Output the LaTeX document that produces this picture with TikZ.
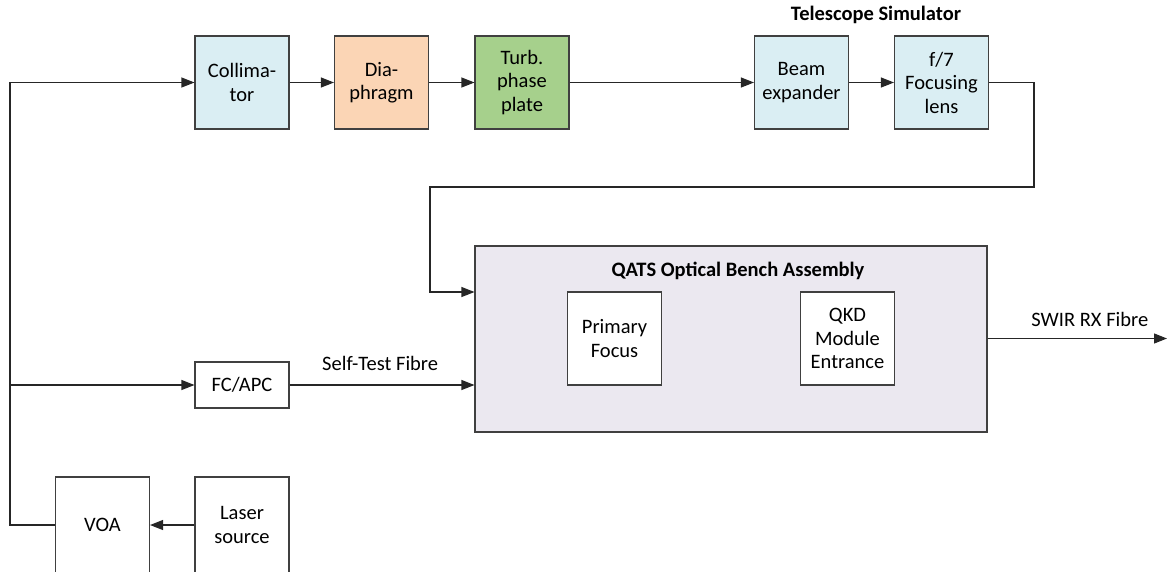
\documentclass[tikz,border=0pt]{standalone}
\usepackage{fontspec}
\setmainfont{Carlito}
\usetikzlibrary{arrows.meta}
\definecolor{lblue}{HTML}{DAEEF3}
\definecolor{peach}{HTML}{FBD5B5}
\definecolor{lgreen}{HTML}{A6D08C}
\definecolor{lav}{HTML}{EBE8F0}
\definecolor{edge}{HTML}{404040}
\begin{document}
\begin{tikzpicture}[x=1pt,y=-1pt,
  box/.style={draw=edge, line width=1.1pt, minimum width=94pt, minimum height=93pt, align=center,
    inner sep=0pt, font=\fontsize{20.5}{23.5}\selectfont},
  lbl/.style={font=\fontsize{20.5}{23.5}\selectfont},
  conn/.style={draw=black!85, line width=1.1pt},
  arr/.style={conn, -{Triangle[length=13pt,width=10pt]}}]
\useasboundingbox (0,0) rectangle (1167,571);
\clip (0,0) rectangle (1167,571);
% top row
\node[box, fill=lblue] (col) at (242,82.5) {Collima-\\tor};
\node[box, fill=peach] (dia) at (381.5,82.5) {Dia-\\phragm};
\node[box, fill=lgreen] (turb) at (522,82.5) {Turb.\\phase\\plate};
\node[box, fill=lblue] (beam) at (801.5,82.5) {Beam\\expander};
\node[box, fill=lblue] (foc) at (941.5,82.5) {f/7\\Focusing\\lens};
\node[font=\fontsize{20.5}{23.5}\selectfont\bfseries] (tsim) at (876,15) {Telescope Simulator};
% bench
\node[draw=edge, line width=1.1pt, fill=lav, minimum width=512pt, minimum height=186pt] (bench) at (731,339) {};
\node[font=\fontsize{20.5}{23.5}\selectfont\bfseries] (btitle) at (738,271) {QATS Optical Bench Assembly};
\node[box, fill=white] (prim) at (614.5,338.5) {Primary\\Focus};
\node[box, fill=white] (qkd) at (847.5,338.5) {QKD\\Module\\Entrance};
% left column
\node[box, fill=white, minimum height=46pt] (fc) at (242,385) {FC/APC};
\node[box, fill=white, minimum height=96pt] (voa) at (102.5,525) {VOA};
\node[box, fill=white, minimum height=96pt] (las) at (242,525) {Laser\\source};
% coordinates
\coordinate (lb) at (10,525);
\coordinate (lt) at (10,82.5);
\coordinate (lm) at (10,385);
\coordinate (r1) at (1034,82.5);
\coordinate (r2) at (1034,187);
\coordinate (r3) at (430,187);
\coordinate (r4) at (430,292);
\coordinate (bin1) at (bench.west |- r4);
\coordinate (bin2) at (bench.west |- fc);
\coordinate (bout) at (bench.east |- prim);
\coordinate (swir) at (1167,338.5);
% connectors
\draw[arr] (voa.west) -- (lb) -- (lt) -- (col.west);
\draw[arr] (lm) -- (fc.west);
\draw[arr] (las.west) -- (voa.east);
\draw[arr] (col) -- (dia);
\draw[arr] (dia) -- (turb);
\draw[arr] (turb) -- (beam);
\draw[arr] (beam) -- (foc);
\draw[arr] (foc.east) -- (r1) -- (r2) -- (r3) -- (r4) -- (bin1);
\draw[arr] (fc.east) -- (bin2) node[lbl, pos=0.49, above=10pt] (stf) {Self-Test Fibre};
\draw[arr] (bout) -- (swir) node[lbl, pos=0.57, above=8pt] (swl) {SWIR RX Fibre};
\end{tikzpicture}
\end{document}
